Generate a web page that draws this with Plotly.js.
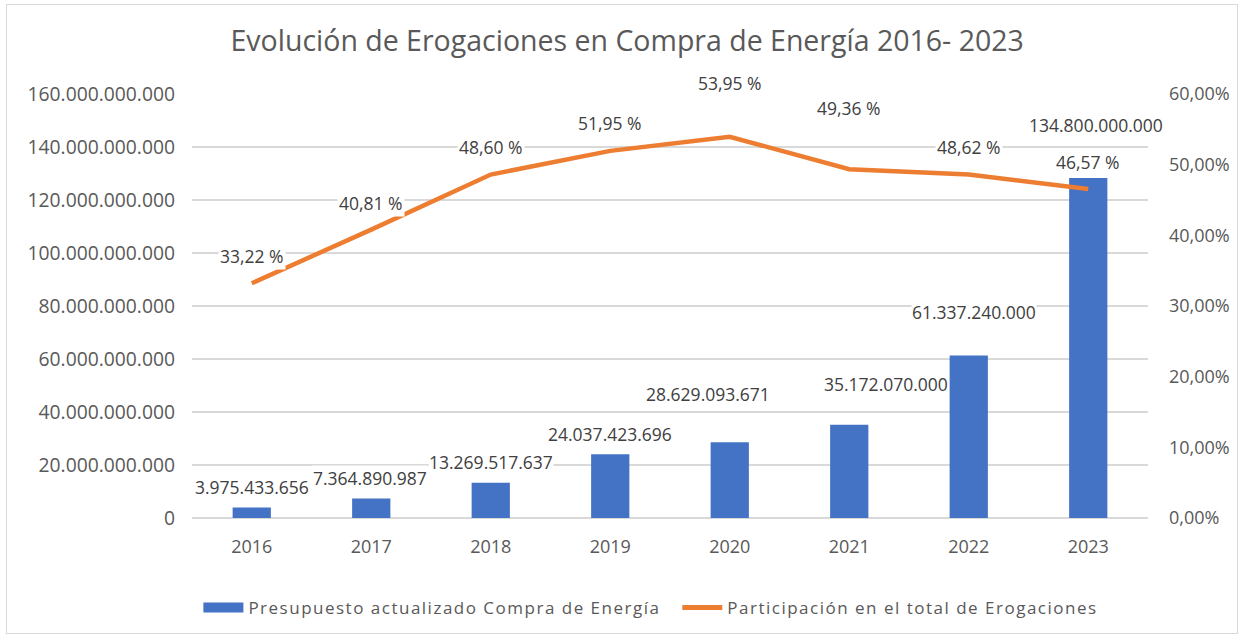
<!DOCTYPE html>
<html>
<head>
<meta charset="utf-8">
<script src="https://cdn.plot.ly/plotly-3.0.1.min.js"></script>
<style>
  body { margin: 0; background: #fff; }
  #wrap { position: relative; width: 1242px; height: 638px; }
  #chart { width: 1242px; height: 638px; }
  #frame { position: absolute; left: 6px; top: 4px; width: 1230px; height: 628px; border: 1px solid #d9d9d9; pointer-events: none; }
  .legendtext { letter-spacing: 1.5px; }
</style>
</head>
<body>
<div id="wrap"><div id="chart"></div><div id="frame"></div></div>
<script>
const years = ['2016', '2017', '2018', '2019', '2020', '2021', '2022', '2023'];
// bar heights as drawn
const barValues = [3975433656, 7364890987, 13269517637, 24037423696, 28629093671, 35172070000, 61337240000, 128300000000];
// values written in the bar labels
const barLabelValues = [3975433656, 7364890987, 13269517637, 24037423696, 28629093671, 35172070000, 61337240000, 134800000000];
// share of total expenditure (%)
const shareValues = [33.22, 40.81, 48.60, 51.95, 53.95, 49.36, 48.62, 46.57];

const barName = 'Presupuesto actualizado Compra de Energía';
const lineName = 'Participación en el total de Erogaciones';

function fmtInt(v) { return String(Math.round(v)).replace(/\B(?=(\d{3})+(?!\d))/g, '.'); }
function fmtPct(v) { return v.toFixed(2).replace('.', ',') + ' %'; }

const BLUE = '#4472C4', ORANGE = '#ED7D31', GRID = '#d9d9d9', TXT = '#595959', LBL = '#404040';
const FONT = 'Open Sans, Noto Sans, sans-serif';
const empty = years.map(() => null);

const traces = [
  { type: 'bar', x: years, y: barValues, name: barName, marker: { color: BLUE }, width: 0.32, showlegend: false, hoverinfo: 'skip' },
  { type: 'scatter', mode: 'lines', x: years, y: shareValues.map(v => v / 100), yaxis: 'y2', name: lineName,
    line: { color: ORANGE, width: 4.5 }, showlegend: false, hoverinfo: 'skip' },
  // legend entries
  { type: 'scatter', mode: 'lines', x: years, y: empty, name: barName + '\u00a0\u00a0', line: { color: BLUE, width: 11 }, showlegend: true },
  { type: 'scatter', mode: 'lines', x: years, y: empty, yaxis: 'y2', name: lineName, line: { color: ORANGE, width: 5 }, showlegend: true }
];

// label offsets in pixels [x, y]
const barShift = [[0, 20.5], [-1, 20.5], [0, 21], [0, 20], [-22, 48], [37, 41], [5, 43.5], [7.5, 53]];
const lineShift = [[0, 27], [0, 26.6], [0, 27.6], [0, 28], [0, 54], [0, 61], [0, 27], [0, 27]];

const annotations = [];
years.forEach((yr, i) => {
  annotations.push({ x: i, y: barValues[i], xref: 'x', yref: 'y', text: fmtInt(barLabelValues[i]), showarrow: false,
    xshift: barShift[i][0], yshift: barShift[i][1], bgcolor: '#ffffff', borderpad: 0,
    font: { family: FONT, size: 17.5, color: LBL } });
  annotations.push({ x: i, y: shareValues[i] / 100, xref: 'x', yref: 'y2', text: fmtPct(shareValues[i]), showarrow: false,
    xshift: lineShift[i][0], yshift: lineShift[i][1], bgcolor: '#ffffff', borderpad: 1,
    font: { family: FONT, size: 17.5, color: LBL } });
});

const layout = {
  width: 1242, height: 638,
  margin: { l: 192, r: 94, t: 94, b: 120 },
  paper_bgcolor: '#ffffff', plot_bgcolor: '#ffffff',
  separators: ',.',
  font: { family: FONT, color: TXT },
  title: { text: 'Evolución de Erogaciones en Compra de Energía 2016- 2023', x: 0.505, xanchor: 'center', y: 0.935, yanchor: 'middle',
    font: { family: FONT, size: 28.5, color: TXT } },
  xaxis: { type: 'category', categoryorder: 'array', categoryarray: years, range: [-0.5, 7.5], showgrid: false, zeroline: false, showline: false, ticks: '',
    ticklabelstandoff: 16, tickfont: { family: FONT, size: 18, color: TXT } },
  yaxis: { range: [0, 160e9], dtick: 20e9, tickformat: ',d', showgrid: true, gridcolor: GRID, gridwidth: 1.5,
    zeroline: true, zerolinecolor: GRID, zerolinewidth: 1.5, showline: false, ticks: '', ticklabelstandoff: 16,
    tickfont: { family: FONT, size: 19.3, color: TXT } },
  yaxis2: { range: [0, 0.6], dtick: 0.1, tickformat: '.2%', overlaying: 'y', side: 'right', showgrid: false,
    zeroline: false, showline: false, ticks: '', ticklabelstandoff: 20,
    tickfont: { family: FONT, size: 18, color: TXT } },
  showlegend: true,
  legend: { orientation: 'h', x: 0.48, xanchor: 'center', y: -0.212, yanchor: 'middle',
    font: { family: FONT, size: 17, color: TXT }, itemwidth: 40, tracegroupgap: 0, bgcolor: 'rgba(0,0,0,0)' },
  annotations: annotations
};

Plotly.newPlot('chart', traces, layout, { staticPlot: true, displayModeBar: false });
</script>
</body>
</html>
